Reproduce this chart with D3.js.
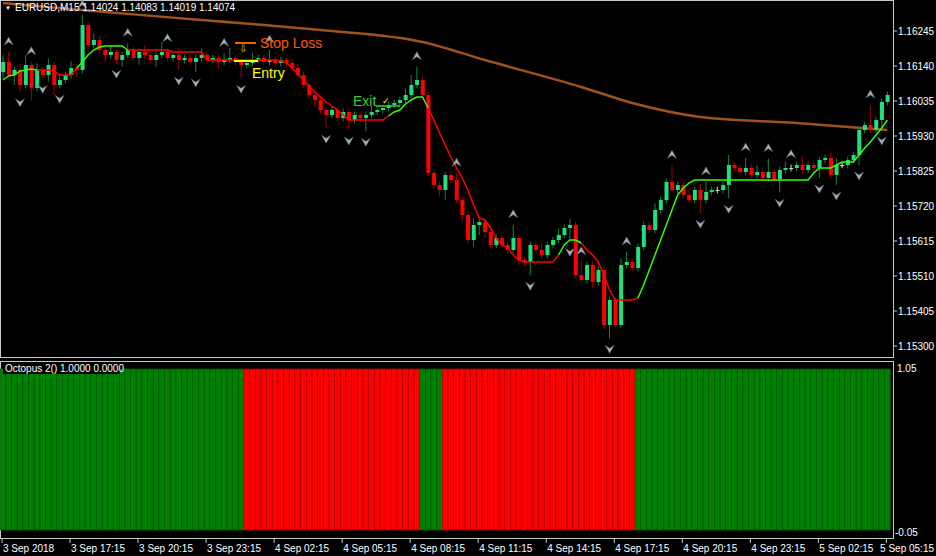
<!DOCTYPE html>
<html><head><meta charset="utf-8">
<script src="https://cdn.jsdelivr.net/npm/d3@7"></script>
<style>body{margin:0;background:#000;}svg{display:block;}text{font-family:"Liberation Sans",Arial,sans-serif;}</style>
</head><body><svg id="c" width="936" height="556"></svg>
<script>
const closes=[1.16152,1.16113,1.16128,1.16083,1.16143,1.16074,1.16128,1.16113,1.16143,1.16083,1.16098,1.16113,1.16134,1.16128,1.16263,1.16203,1.16218,1.16188,1.16173,1.16182,
1.16158,1.16173,1.16188,1.16164,1.16182,1.16173,1.16158,1.16173,1.16182,1.16164,1.16173,1.16158,1.16164,1.16152,1.16164,1.16173,1.16158,1.16164,1.16152,1.16158,
1.16164,1.16152,1.16143,1.16149,1.16158,1.16164,1.16152,1.16158,1.16149,1.16158,1.16149,1.16134,1.16113,1.16083,1.16053,1.16038,1.16008,1.15993,1.16008,1.15984,
1.16002,1.15978,1.15993,1.15984,1.15993,1.16002,1.16008,1.16014,1.16023,1.16029,1.16038,1.16053,1.16083,1.16098,1.16053,1.15819,1.15783,1.15768,1.15813,1.15798,
1.15738,1.15693,1.15618,1.15663,1.15672,1.15642,1.15603,1.15624,1.15603,1.15588,1.15624,1.15558,1.15552,1.15603,1.15588,1.15573,1.15603,1.15618,1.15633,1.15654,
1.15663,1.15513,1.15498,1.15543,1.15492,1.15528,1.15363,1.15438,1.15363,1.15543,1.15552,1.15534,1.15597,1.15663,1.15648,1.15708,1.15738,1.15792,1.15768,1.15783,
1.15753,1.15738,1.15768,1.15738,1.15762,1.15768,1.15768,1.15783,1.15843,1.15834,1.15822,1.15834,1.15813,1.15822,1.15804,1.15822,1.15801,1.15828,1.15834,1.15834,
1.15843,1.15828,1.15843,1.15834,1.15858,1.15864,1.15813,1.15843,1.15843,1.15858,1.15873,1.15948,1.15963,1.15948,1.15978,1.16032,1.16053];
const openFirst=1.16122;
// wick lengths in pips (0.0001)
const wickUp=[2,3,1,2,3,1,2,1,2,1,2,1,2,1,3,1,2,1,1,2,1,1,2,1,1,2,1,1,3,1,1,2,1,1,1,2,1,1,1,2,3,1,1,1,2,1,1,3,1,1,1,1,1,1,1,2,1,1,1,1,1,1,1,1,1,2,1,1,1,1,1,2,3,4,1,1,1,1,1,1,2,1,1,2,1,1,2,1,1,1,4,1,1,1,1,2,1,1,2,1,2,1,4,1,1,1,1,1,1,2,3,1,1,1,1,2,1,1,5,1,1,2,1,2,3,1,1,1,3,1,1,3,1,2,1,4,1,1,2,1,1,3,1,1,1,1,2,2,1,1,1,1,1,6,1,1,1];
const wickDn=[2,1,3,2,1,4,1,1,2,3,1,1,1,2,1,2,1,1,2,1,1,2,1,1,2,1,1,2,1,1,1,3,1,1,3,1,1,1,2,1,1,1,4,1,1,1,1,1,1,1,1,1,1,1,1,2,1,4,1,1,1,3,1,1,4,1,1,1,1,1,1,1,1,1,1,1,1,2,3,1,1,2,1,2,3,1,1,1,1,1,1,1,1,4,1,1,1,1,1,1,4,1,1,1,2,1,1,4,1,1,1,1,1,1,1,1,1,1,1,1,1,1,1,4,1,1,1,1,4,1,1,1,1,1,1,1,1,4,1,1,1,1,1,1,3,1,1,3,1,1,1,3,1,1,1,3,1];
const trail=[1.16098,1.16110,1.16113,1.16125,1.16128,1.16131,1.16128,1.16128,1.16128,1.16125,1.16113,1.16113,1.16113,1.16134,1.16152,1.16173,1.16188,1.16197,1.16200,1.16200,
1.16200,1.16200,1.16188,1.16188,1.16188,1.16188,1.16188,1.16188,1.16188,1.16188,1.16182,1.16182,1.16182,1.16182,1.16182,1.16182,1.16158,1.16158,1.16158,1.16158,
1.16158,1.16158,1.16158,1.16158,1.16158,1.16158,1.16158,1.16158,1.16158,1.16155,1.16149,1.16134,1.16116,1.16098,1.16080,1.16062,1.16047,1.16032,1.16020,1.16008,
1.15993,1.15978,1.15978,1.15978,1.15978,1.15978,1.15978,1.15978,1.15990,1.16002,1.16008,1.16026,1.16038,1.16047,1.16047,1.16014,1.15978,1.15939,1.15903,1.15867,
1.15834,1.15804,1.15768,1.15723,1.15684,1.15678,1.15654,1.15624,1.15603,1.15594,1.15573,1.15558,1.15552,1.15552,1.15552,1.15552,1.15552,1.15552,1.15573,1.15603,
1.15618,1.15618,1.15609,1.15588,1.15573,1.15552,1.15513,1.15468,1.15438,1.15438,1.15438,1.15438,1.15444,1.15483,1.15528,1.15573,1.15618,1.15663,1.15708,1.15753,
1.15774,1.15789,1.15798,1.15798,1.15798,1.15798,1.15798,1.15798,1.15798,1.15798,1.15798,1.15798,1.15798,1.15798,1.15798,1.15798,1.15798,1.15798,1.15798,1.15798,
1.15798,1.15798,1.15798,1.15819,1.15834,1.15834,1.15834,1.15843,1.15852,1.15852,1.15852,1.15873,1.15894,1.15912,1.15933,1.15954,1.15978];
const trailSegments=[[0,6,"up"],[6,13,"dn"],[13,22,"up"],[22,68,"dn"],[68,75,"up"],[75,98,"dn"],[98,102,"up"],[102,112,"dn"],[112,156,"up"]];
const maBars=[0,18,35,56,74,85,102,111,123,140,156];
const maVals=[1.16329,1.16302,1.16278,1.16248,1.16212,1.16158,1.16077,1.16029,1.15987,1.15969,1.15948];
const fractalUp=[1,5,14,22,29,39,47,73,80,90,102,110,118,124,131,135,139,153];
const fractalDn=[3,7,10,20,31,34,42,57,61,64,93,100,107,123,128,137,144,147,151,155];
const signalSegments=[[0,42,1],[43,73,0],[74,77,1],[78,111,0],[112,156,1]];
const priceTicks=[1.16245,1.16140,1.16035,1.15930,1.15825,1.15720,1.15615,1.15510,1.15405,1.15300];
const timeLabels=["3 Sep 2018","3 Sep 17:15","3 Sep 20:15","3 Sep 23:15","4 Sep 02:15","4 Sep 05:15","4 Sep 08:15","4 Sep 11:15","4 Sep 14:15","4 Sep 17:15","4 Sep 20:15","4 Sep 23:15","5 Sep 02:15","5 Sep 05:15"];
const timeBars=[0,12,24,36,48,60,72,84,96,108,120,132,144,156];
const indTicks=["1.05","-0.05"];

const svg=d3.select("#c");
const W=893;
const x=d3.scaleLinear().domain([0,156]).range([3,887.4]);
const y=d3.scaleLinear().domain([1.15300,1.16245]).range([346,31]);
const bw=5.67;
svg.append("rect").attr("x",0.5).attr("y",0.5).attr("width",W).attr("height",357).attr("fill","none").attr("stroke","#c8c8c8");
svg.append("rect").attr("x",0.5).attr("y",361.5).attr("width",W).attr("height",177).attr("fill","none").attr("stroke","#c8c8c8");
const main=svg.append("g");
main.append("path").datum(maBars.map((b,i)=>[x(b),y(maVals[i])]))
 .attr("d",d3.line().curve(d3.curveMonotoneX)).attr("fill","none").attr("stroke","#a0521e").attr("stroke-width",2.5);
const data=closes.map((c,i)=>{const o=i?closes[i-1]:openFirst;return{i,o,c,h:Math.max(o,c)+wickUp[i]*0.0001,l:Math.min(o,c)-wickDn[i]*0.0001};});
data.forEach(d=>{
 const up=d.c>d.o, eq=Math.abs(d.c-d.o)<1e-6;
 const col=eq?"#ddd":(up?"#1fe07c":"#ff0000"), wc=eq?"#ddd":(up?"#0a8a40":"#9a0000");
 main.append("line").attr("x1",x(d.i)).attr("x2",x(d.i)).attr("y1",y(d.h)).attr("y2",y(d.l)).attr("stroke",wc).attr("stroke-width",1);
 const t=y(Math.max(d.o,d.c)),b=y(Math.min(d.o,d.c));
 main.append("rect").attr("x",x(d.i)-1.8).attr("y",t).attr("width",4).attr("height",Math.max(1,b-t)).attr("fill",col);
});
trailSegments.forEach(([a,b,t])=>{
 const pts=d3.range(a,b+1).map(i=>[x(i),y(trail[i])]);
 main.append("path").datum(pts).attr("d",d3.line()).attr("fill","none").attr("stroke",t==="up"?"#33ff00":"#ff0000").attr("stroke-width",1.5);
});
function arrow(cx,cy,dir){
 const s=dir;
 const p=[[cx,cy],[cx-4.5,cy-8*s],[cx,cy-5*s],[cx+4.5,cy-8*s]];
 main.append("path").attr("d",d3.line()(p)+"Z").attr("fill","#a8b0b8").attr("stroke","#5a6068").attr("stroke-width",0.5);
}
fractalUp.forEach(i=>arrow(x(i),y(data[i].h)-15,-1));
fractalDn.forEach(i=>arrow(x(i),y(data[i].l)+15,1));
main.append("line").attr("x1",235).attr("x2",256).attr("y1",43).attr("y2",43).attr("stroke","#ff5a00").attr("stroke-width",2);
main.append("text").attr("x",260).attr("y",48).text("Stop Loss").attr("fill","#ff5a00").attr("font-size",14);
main.append("text").attr("x",243).attr("y",52).text("⇩").attr("fill","#e0d000").attr("font-size",10).attr("text-anchor","middle");
main.append("line").attr("x1",234).attr("x2",258).attr("y1",61).attr("y2",61).attr("stroke","#ffff00").attr("stroke-width",2);
main.append("text").attr("x",252).attr("y",78).text("Entry").attr("fill","#ffff00").attr("font-size",14);
main.append("text").attr("x",353).attr("y",106).text("Exit").attr("fill","#33cc33").attr("font-size",14);
main.append("text").attr("x",382).attr("y",104).text("✓").attr("fill","#ffff00").attr("font-size",9);
main.append("line").attr("x1",376).attr("x2",400).attr("y1",106).attr("y2",106).attr("stroke","#33cc33").attr("stroke-width",1.5);
svg.append("text").attr("x",5).attr("y",10).text("▼").attr("fill","#fff").attr("font-size",6);
svg.append("text").attr("x",15).attr("y",11).text("EURUSD,M15  1.14024 1.14083 1.14019 1.14074").attr("fill","#fff").attr("font-size",10);
priceTicks.forEach(p=>{
 svg.append("line").attr("x1",W).attr("x2",W+4).attr("y1",y(p)).attr("y2",y(p)).attr("stroke","#c8c8c8");
 svg.append("text").attr("x",898).attr("y",y(p)+3.5).text(p.toFixed(5)).attr("fill","#fff").attr("font-size",10);
});
const yi=d3.scaleLinear().domain([0,1]).range([530,369]);
signalSegments.forEach(([a,b,s])=>{
 d3.range(a,b+1).forEach(i=>{
  svg.append("rect").attr("x",x(i)-bw/2).attr("y",yi(1)).attr("width",bw).attr("height",yi(0)-yi(1))
   .attr("fill",s?"#008000":"#ff0000").attr("stroke",s?"#005a00":"#b00000").attr("stroke-width",0.7);
 });
});
svg.append("rect").attr("x",3).attr("y",363).attr("width",117).attr("height",11).attr("fill","#000");
svg.append("text").attr("x",5).attr("y",372).text("Octopus 2() 1.0000 0.0000").attr("fill","#fff").attr("font-size",10);
svg.append("text").attr("x",897).attr("y",372).text(indTicks[0]).attr("fill","#fff").attr("font-size",10);
svg.append("text").attr("x",895).attr("y",536).text(indTicks[1]).attr("fill","#fff").attr("font-size",10);
timeBars.forEach((b,k)=>{
 const xx=x(b)-1;
 svg.append("line").attr("x1",xx).attr("x2",xx).attr("y1",539).attr("y2",543).attr("stroke","#c8c8c8");
 const last=k===timeBars.length-1;
 svg.append("text").attr("x",last?934:xx+1).attr("text-anchor",last?"end":"start").attr("y",552).text(timeLabels[k]).attr("fill","#fff").attr("font-size",10);
});
</script></body></html>
